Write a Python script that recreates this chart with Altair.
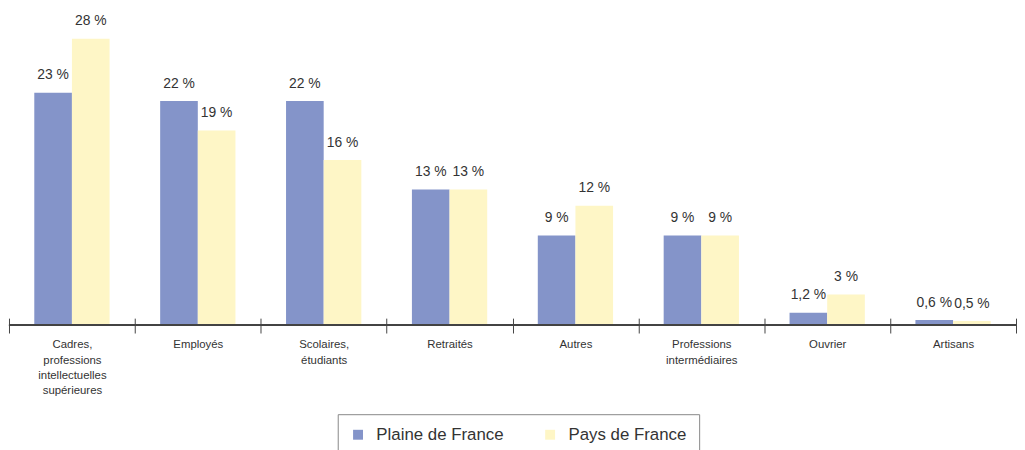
import altair as alt
import pandas as pd

categories = [
    "Cadres,\nprofessions\nintellectuelles\nsupérieures",
    "Employés",
    "Scolaires,\nétudiants",
    "Retraités",
    "Autres",
    "Professions\nintermédiaires",
    "Ouvrier",
    "Artisans",
]
series = ["Plaine de France", "Pays de France"]
plaine_values = [22.8, 22.0, 22.0, 13.3, 8.8, 8.8, 1.2, 0.5]
pays_values = [28.1, 19.1, 16.2, 13.3, 11.7, 8.8, 3.0, 0.4]
plaine_labels = ["23 %", "22 %", "22 %", "13 %", "9 %", "9 %", "1,2 %", "0,6 %"]
pays_labels = ["28 %", "19 %", "16 %", "13 %", "12 %", "9 %", "3 %", "0,5 %"]
colors = ["#8494C9", "#FEF6C6"]

rows = []
for i, c in enumerate(categories):
    rows.append({"cat": c, "serie": series[0], "val": plaine_values[i], "lab": plaine_labels[i]})
    rows.append({"cat": c, "serie": series[1], "val": pays_values[i], "lab": pays_labels[i]})
df = pd.DataFrame(rows)

FONT = "Liberation Sans"

x_enc = alt.X(
    "cat:N",
    sort=categories,
    title=None,
    scale=alt.Scale(paddingInner=0, paddingOuter=0),
    axis=alt.Axis(
        labelAngle=0,
        labelExpr="split(datum.label, '\\n')",
        labelFont=FONT,
        labelFontSize=11.5,
        labelLineHeight=15.5,
        labelColor="#333333",
        labelBaseline="top",
        labelPadding=6,
        tickBand="extent",
        tickSize=15,
        tickColor="#444444",
        offset=-7,
        domain=False,
        grid=False,
    ),
)
xoff = alt.XOffset("serie:N", sort=series, scale=alt.Scale(paddingInner=0, paddingOuter=0.672))
y_enc = alt.Y("val:Q", axis=None, scale=alt.Scale(domain=[0, 30.9], nice=False))

bars = alt.Chart(df).mark_bar().encode(
    x=x_enc,
    xOffset=xoff,
    y=y_enc,
    color=alt.Color(
        "serie:N",
        sort=series,
        scale=alt.Scale(domain=series, range=colors),
        legend=alt.Legend(
            orient="none",
            legendX=332,
            legendY=408,
            direction="horizontal",
            title=None,
            symbolType="square",
            symbolSize=100,
            symbolStrokeWidth=0,
            symbolOpacity=1,
            labelFont=FONT,
            labelFontSize=17,
            labelColor="#333333",
            labelOffset=10,
            columnPadding=38,
            padding=12,
            strokeColor="#888888",
        ),
    ),
)

texts = alt.Chart(df).mark_text(
    baseline="alphabetic", dy=-13.5, font=FONT, fontSize=14, color="#333333"
).encode(
    x=alt.X("cat:N", sort=categories),
    xOffset=xoff,
    y=y_enc,
    text="lab:N",
)

baseline = alt.Chart(df).mark_rule(color="#444444", strokeWidth=1).encode(y=alt.datum(0))

chart = (
    alt.layer(bars, texts, baseline)
    .properties(width=1017, height=318, padding=0)
    .configure_view(stroke=None)
)

chart.save("out.html", embed_options={"renderer": "svg", "actions": False})
